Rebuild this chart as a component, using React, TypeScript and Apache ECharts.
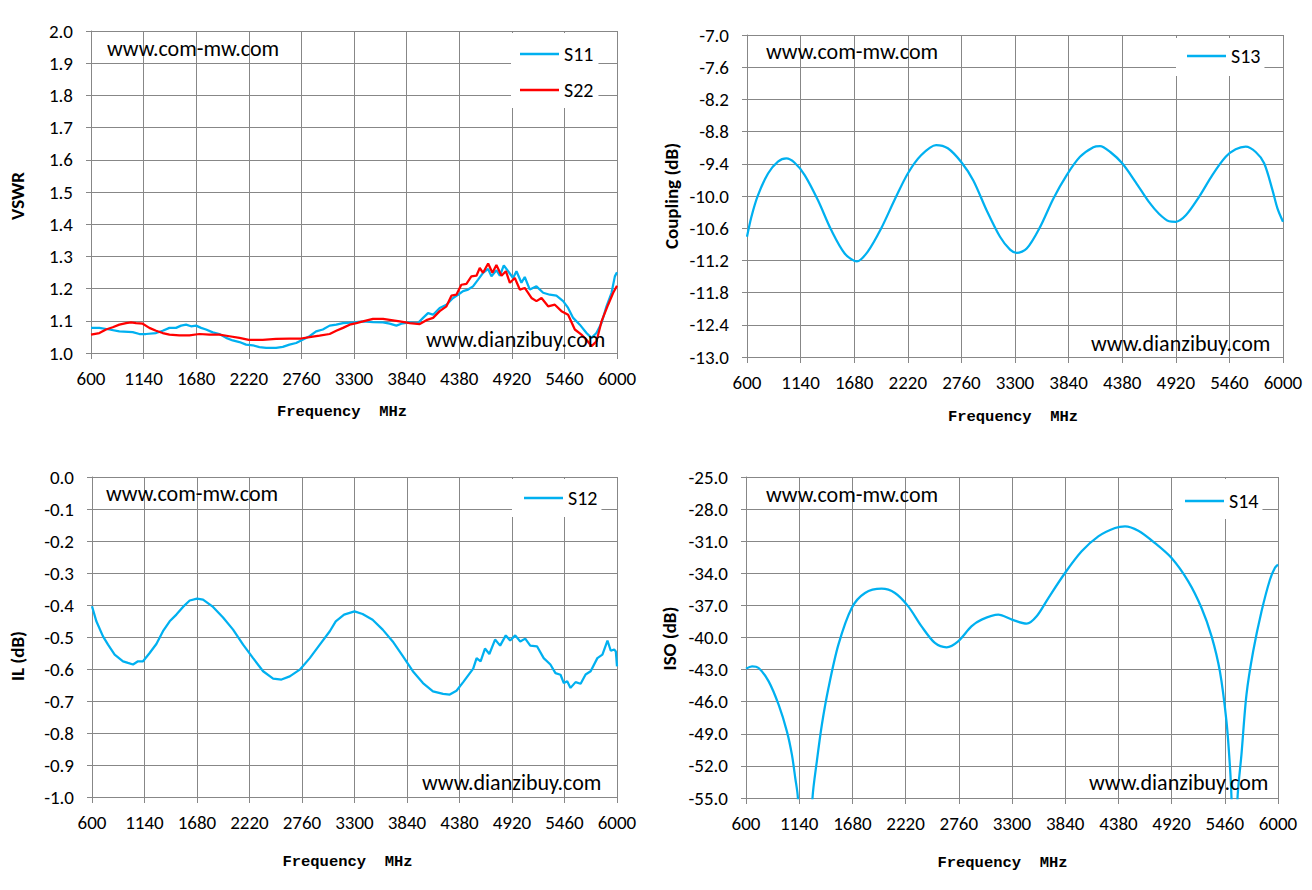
import React, { useEffect, useRef } from "react";
import * as echarts from "echarts";

// ---------- data ----------
const FREQ_MIN = 600;
const FREQ_MAX = 6000;
const FREQ_STEP = 540;

const S11_FREQ = [600, 686, 788, 891, 1028, 1097, 1165, 1268, 1336, 1405, 1473, 1525, 1576, 1627, 1679, 1730, 1781, 1850, 1918, 1987, 2055, 2124, 2192, 2261, 2329, 2398, 2500, 2569, 2637, 2706, 2757, 2843, 2911, 2980, 3050, 3118, 3187, 3300, 3392, 3495, 3598, 3666, 3735, 3786, 3872, 3957, 4009, 4060, 4112, 4180, 4249, 4317, 4368, 4420, 4471, 4522, 4574, 4625, 4677, 4711, 4762, 4797, 4838, 4882, 4933, 4968, 5019, 5053, 5105, 5173, 5242, 5310, 5378, 5447, 5498, 5550, 5618, 5687, 5738, 5789, 5841, 5892, 5944, 5978, 6000];
const S11_VSWR = [1.078, 1.078, 1.073, 1.067, 1.065, 1.059, 1.059, 1.062, 1.069, 1.078, 1.078, 1.085, 1.088, 1.083, 1.085, 1.078, 1.073, 1.064, 1.059, 1.047, 1.039, 1.034, 1.026, 1.024, 1.018, 1.016, 1.016, 1.019, 1.026, 1.031, 1.039, 1.052, 1.067, 1.073, 1.085, 1.088, 1.093, 1.095, 1.098, 1.096, 1.095, 1.091, 1.085, 1.091, 1.095, 1.093, 1.109, 1.124, 1.119, 1.14, 1.15, 1.171, 1.181, 1.192, 1.197, 1.207, 1.228, 1.249, 1.261, 1.238, 1.257, 1.24, 1.272, 1.254, 1.233, 1.254, 1.218, 1.236, 1.197, 1.207, 1.187, 1.181, 1.178, 1.161, 1.14, 1.109, 1.088, 1.062, 1.047, 1.062, 1.093, 1.145, 1.187, 1.238, 1.251];

const S22_FREQ = [600, 686, 754, 823, 891, 960, 1011, 1062, 1131, 1199, 1268, 1336, 1405, 1507, 1610, 1713, 1816, 1918, 2021, 2124, 2220, 2363, 2500, 2637, 2757, 2860, 2946, 3050, 3118, 3187, 3255, 3324, 3392, 3495, 3598, 3683, 3769, 3872, 3975, 4043, 4112, 4180, 4249, 4300, 4351, 4402, 4454, 4505, 4557, 4591, 4625, 4677, 4721, 4762, 4814, 4859, 4900, 4951, 5002, 5053, 5122, 5173, 5225, 5293, 5362, 5430, 5498, 5567, 5635, 5687, 5738, 5789, 5841, 5909, 5961, 6000];
const S22_VSWR = [1.057, 1.062, 1.073, 1.08, 1.088, 1.093, 1.095, 1.093, 1.091, 1.078, 1.069, 1.062, 1.057, 1.055, 1.055, 1.059, 1.057, 1.057, 1.052, 1.047, 1.041, 1.041, 1.044, 1.045, 1.045, 1.05, 1.054, 1.059, 1.069, 1.078, 1.088, 1.093, 1.098, 1.106, 1.106, 1.102, 1.098, 1.093, 1.09, 1.102, 1.109, 1.13, 1.145, 1.178, 1.181, 1.212, 1.215, 1.238, 1.24, 1.264, 1.249, 1.278, 1.249, 1.273, 1.24, 1.254, 1.218, 1.233, 1.197, 1.202, 1.171, 1.161, 1.171, 1.145, 1.15, 1.13, 1.119, 1.073, 1.057, 1.041, 1.021, 1.036, 1.098, 1.15, 1.187, 1.209];

const S13_FREQ = [600, 644, 711, 812, 912, 996, 1080, 1181, 1315, 1450, 1584, 1707, 1815, 1950, 2085, 2220, 2354, 2505, 2623, 2760, 2880, 3015, 3149, 3250, 3317, 3418, 3552, 3686, 3821, 3955, 4089, 4157, 4260, 4380, 4515, 4649, 4750, 4852, 4920, 5021, 5153, 5288, 5423, 5523, 5624, 5725, 5810, 5894, 5944, 6000];
const S13_COUPLING = [-10.76, -10.39, -9.985, -9.58, -9.36, -9.3, -9.38, -9.61, -10.08, -10.64, -11.07, -11.22, -11.04, -10.61, -10.08, -9.58, -9.24, -9.05, -9.11, -9.37, -9.71, -10.27, -10.76, -11.0, -11.06, -10.98, -10.58, -10.05, -9.61, -9.27, -9.09, -9.07, -9.18, -9.39, -9.74, -10.11, -10.33, -10.47, -10.48, -10.36, -10.02, -9.61, -9.27, -9.13, -9.08, -9.18, -9.39, -9.89, -10.23, -10.48];

const S12_FREQ = [600, 645, 713, 765, 833, 919, 970, 1022, 1073, 1125, 1193, 1262, 1330, 1399, 1468, 1536, 1605, 1680, 1742, 1845, 1948, 2051, 2154, 2257, 2360, 2463, 2549, 2634, 2737, 2840, 2943, 3046, 3107, 3193, 3300, 3383, 3486, 3590, 3693, 3797, 3900, 4004, 4107, 4211, 4280, 4349, 4418, 4521, 4556, 4597, 4642, 4687, 4746, 4798, 4856, 4901, 4953, 5005, 5056, 5108, 5177, 5246, 5315, 5367, 5419, 5453, 5488, 5522, 5574, 5626, 5677, 5729, 5798, 5850, 5902, 5936, 5971, 5988, 6000];
const S12_IL = [-0.404, -0.451, -0.498, -0.524, -0.555, -0.576, -0.581, -0.586, -0.576, -0.576, -0.55, -0.522, -0.482, -0.451, -0.43, -0.406, -0.386, -0.38, -0.383, -0.406, -0.439, -0.477, -0.524, -0.566, -0.607, -0.63, -0.633, -0.623, -0.602, -0.566, -0.524, -0.482, -0.451, -0.43, -0.42, -0.428, -0.446, -0.477, -0.514, -0.56, -0.607, -0.644, -0.67, -0.678, -0.68, -0.668, -0.641, -0.599, -0.566, -0.576, -0.536, -0.553, -0.508, -0.527, -0.495, -0.511, -0.495, -0.514, -0.505, -0.527, -0.529, -0.566, -0.586, -0.613, -0.618, -0.644, -0.638, -0.659, -0.641, -0.646, -0.617, -0.607, -0.566, -0.555, -0.511, -0.543, -0.539, -0.545, -0.592];

const S14_FREQ = [600, 661, 728, 830, 931, 1015, 1066, 1100, 1127, 1150, 1250, 1275, 1319, 1370, 1437, 1538, 1673, 1808, 1977, 2112, 2247, 2382, 2517, 2636, 2753, 2888, 2992, 3161, 3300, 3449, 3550, 3669, 3838, 4007, 4176, 4346, 4447, 4582, 4751, 4920, 5089, 5224, 5326, 5410, 5477, 5511, 5528, 5545, 5575, 5589, 5629, 5680, 5748, 5833, 5918, 5968, 6000];
const S14_ISO = [-42.91, -42.69, -42.85, -44.1, -46.28, -48.77, -50.95, -53.13, -55.0, -62, -62, -55.0, -51.57, -48.15, -44.72, -40.67, -37.24, -35.84, -35.44, -35.84, -37.09, -38.96, -40.51, -40.92, -40.36, -38.96, -38.33, -37.87, -38.33, -38.71, -38.02, -36.31, -33.97, -31.95, -30.55, -29.77, -29.61, -30.02, -31.17, -32.57, -34.75, -37.24, -39.89, -43.16, -47.83, -51.88, -55.0, -62, -62, -55.0, -50.95, -45.34, -41.29, -37.55, -34.6, -33.5, -33.19];

// y-axis ranges: [min, max, step]
const VSWR_RANGE = [1.0, 2.0, 0.1];
const COUPLING_RANGE = [-13.0, -7.0, 0.6];
const IL_RANGE = [-1.0, 0.0, 0.1];
const ISO_RANGE = [-55.0, -25.0, 3.0];

const X_TITLE = "Frequency  MHz";
const Y_TITLES = ["VSWR", "Coupling (dB)", "IL (dB)", "ISO (dB)"];
const WATERMARK_TOP = "www.com-mw.com";
const WATERMARK_BOTTOM = "www.dianzibuy.com";

// ---------- styles / layout ----------
const BLUE = "#00B0F0";
const RED = "#FF0000";
const GRID_COLOR = "#878787";
const TICK_FONT = 'Carlito, "Open Sans", sans-serif';
const MARK_FONT = '22px Carlito, "Open Sans", sans-serif';

const GRIDS = [
  { left: 91, top: 31, width: 526, height: 322 },
  { left: 747, top: 35, width: 536, height: 322 },
  { left: 92, top: 477, width: 525, height: 320 },
  { left: 746, top: 477, width: 532, height: 321 },
];
const X_NAME = [
  { gap: 51, shift: 24 },
  { gap: 52, shift: 4 },
  { gap: 57, shift: 14 },
  { gap: 57, shift: 19 },
];
const Y_NAME = [
  { gap: 64, shift: 8 },
  { gap: 66, shift: 0 },
  { gap: 65, shift: 38 },
  { gap: 67, shift: 2 },
];
const RANGES = [VSWR_RANGE, COUPLING_RANGE, IL_RANGE, ISO_RANGE];

function pts(freqs: number[], vals: number[], yMin: number) {
  return freqs.map((f, i) => [f - FREQ_MIN, vals[i] - yMin]);
}

function xAxis(i: number) {
  return {
    type: "value",
    gridIndex: i,
    min: 0,
    max: FREQ_MAX - FREQ_MIN,
    interval: FREQ_STEP,
    name: X_TITLE,
    nameLocation: "middle",
    nameGap: X_NAME[i].gap,
    nameTextStyle: {
      fontFamily: '"Liberation Mono", monospace',
      fontWeight: "bold",
      fontSize: 15.5,
      color: "#000",
      padding: [0, X_NAME[i].shift, 0, 0],
    },
    axisLine: { show: true, onZero: false, lineStyle: { color: GRID_COLOR, width: 1 } },
    axisTick: { show: true, inside: false, length: 6, lineStyle: { color: GRID_COLOR, width: 1 } },
    axisLabel: {
      margin: 16,
      fontSize: 19,
      fontFamily: TICK_FONT,
      color: "#000",
      showMinLabel: true,
      showMaxLabel: true,
      formatter: (v: number) => String(Math.round(v + FREQ_MIN)),
    },
    splitLine: { show: true, lineStyle: { color: GRID_COLOR, width: 1 } },
  };
}

function yAxis(i: number) {
  const [mn, mx, st] = RANGES[i];
  return {
    type: "value",
    gridIndex: i,
    min: 0,
    max: mx - mn,
    interval: st,
    name: Y_TITLES[i],
    nameLocation: "middle",
    nameGap: Y_NAME[i].gap,
    nameTextStyle: {
      fontFamily: 'Carlito, "Open Sans", sans-serif',
      fontWeight: "bold",
      fontSize: 19,
      color: "#000",
      padding: [0, Y_NAME[i].shift, 0, 0],
    },
    axisLine: { show: true, lineStyle: { color: GRID_COLOR, width: 1 } },
    axisTick: { show: true, inside: false, length: 5, lineStyle: { color: GRID_COLOR, width: 1 } },
    axisLabel: {
      margin: 18,
      fontSize: 19,
      fontFamily: TICK_FONT,
      color: "#000",
      showMinLabel: true,
      showMaxLabel: true,
      formatter: (v: number) => {
        const r = Math.round((v + mn) * 10) / 10;
        return (r === 0 ? 0 : r).toFixed(1);
      },
    },
    splitLine: { show: true, lineStyle: { color: GRID_COLOR, width: 1 } },
  };
}

function legend(names: string[], left: number, top: number, padding: number[]) {
  return {
    data: names,
    orient: "vertical",
    left,
    top,
    padding,
    itemGap: 16,
    itemWidth: 39,
    itemHeight: 2.5,
    icon: "rect",
    backgroundColor: "#ffffff",
    textStyle: { fontSize: 20, fontFamily: TICK_FONT, color: "#000" },
    selectedMode: false,
  };
}

function mark(text: string, x: number, y: number) {
  return {
    type: "text",
    x,
    y,
    z: 5,
    style: {
      text,
      font: MARK_FONT,
      fill: "#000",
      align: "left",
      verticalAlign: "middle",
      textAlign: "left",
      textVerticalAlign: "middle",
    },
  };
}

function line(name: string, i: number, data: number[][], color: string, smooth: number | boolean) {
  return {
    type: "line",
    name,
    xAxisIndex: i,
    yAxisIndex: i,
    data,
    symbol: "none",
    smooth,
    clip: true,
    lineStyle: { color, width: 2.25 },
    itemStyle: { color },
    z: 3,
  };
}

export default function App() {
  const ref = useRef<HTMLDivElement>(null);
  useEffect(() => {
    if (!ref.current) return;
    const chart = echarts.init(ref.current, undefined, { renderer: "svg" });
    const option = {
      animation: false,
      backgroundColor: "#ffffff",
      grid: GRIDS.map((g) => ({ ...g, containLabel: false })),
      xAxis: [0, 1, 2, 3].map(xAxis),
      yAxis: [0, 1, 2, 3].map(yAxis),
      legend: [
        legend(["S11", "S22"], 511, 33, [11, 5, 8, 9]),
        legend(["S13"], 1176, 38, [8, 4, 10, 11]),
        legend(["S12"], 512, 479, [9, 4, 9, 12]),
        legend(["S14"], 1173, 479, [12, 4, 8, 12]),
      ],
      graphic: [
        mark(WATERMARK_TOP, 107, 48),
        mark(WATERMARK_BOTTOM, 426, 339),
        mark(WATERMARK_TOP, 766, 51),
        mark(WATERMARK_BOTTOM, 1091, 343),
        mark(WATERMARK_TOP, 106, 493),
        mark(WATERMARK_BOTTOM, 422, 782),
        mark(WATERMARK_TOP, 766, 494),
        mark(WATERMARK_BOTTOM, 1089, 782),
      ],
      series: [
        line("S11", 0, pts(S11_FREQ, S11_VSWR, VSWR_RANGE[0]), BLUE, false),
        line("S22", 0, pts(S22_FREQ, S22_VSWR, VSWR_RANGE[0]), RED, false),
        line("S13", 1, pts(S13_FREQ, S13_COUPLING, COUPLING_RANGE[0]), BLUE, 0.3),
        line("S12", 2, pts(S12_FREQ, S12_IL, IL_RANGE[0]), BLUE, false),
        line("S14", 3, pts(S14_FREQ, S14_ISO, ISO_RANGE[0]), BLUE, 0.3),
      ],
    };
    chart.setOption(option as any);
    return () => chart.dispose();
  }, []);
  return (
    <div
      ref={ref}
      style={{ position: "fixed", left: 0, top: 0, width: 1312, height: 890, background: "#fff" }}
    />
  );
}
